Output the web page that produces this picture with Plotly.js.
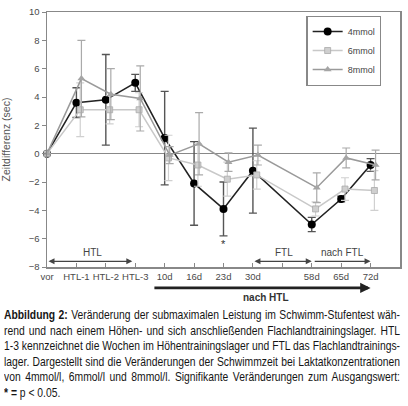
<!DOCTYPE html>
<html>
<head>
<meta charset="utf-8">
<script src="https://cdn.plot.ly/plotly-3.0.1.min.js"></script>
<style>
  body { margin: 0; background: #fff; }
  #plotDiv { position: absolute; left: 0; top: 0; width: 408px; height: 305px; }
  #caption {
    position: absolute; left: 4px; top: 307px;
    font-family: "Liberation Sans", Arial, sans-serif;
    font-size: 13.5px; line-height: 15.6px; color: #151515;
    transform-origin: 0 0;
  }
  #caption .ln { white-space: nowrap; }
  #caption b { font-weight: bold; }
</style>
</head>
<body>
<div id="plotDiv"></div>
<div id="caption">
<div class="ln"><b>Abbildung 2:</b> Veränderung der submaximalen Leistung im Schwimm-Stufentest wäh-</div>
<div class="ln">rend und nach einem Höhen- und sich anschließenden Flachlandtrainingslager. HTL</div>
<div class="ln">1-3 kennzeichnet die Wochen im Höhentrainingslager und FTL das Flachlandtrainings-</div>
<div class="ln">lager. Dargestellt sind die Veränderungen der Schwimmzeit bei Laktatkonzentrationen</div>
<div class="ln">von 4mmol/l, 6mmol/l und 8mmol/l. Signifikante Veränderungen zum Ausgangswert:</div>
<div class="ln last"><b>* =</b> p &lt; 0.05.</div>
</div>
<script>
// messzeitpunkte (30d -> 58d ist doppelt so lang)
var xPos = [0, 1, 2, 3, 4, 5, 6, 7, 9, 10, 11];
var xLabels = ['vor', 'HTL-1', 'HTL-2', 'HTL-3', '10d', '16d', '23d', '30d', '58d', '65d', '72d'];

var mmol4 = [0, 3.6, 3.8, 5.0, 1.1, -2.1, -3.9, -1.2, -5.0, -3.2, -0.8];
var mmol4Err = [0, 1.05, 3.2, 0.6, 3.3, 2.95, 1.9, 3.0, 0.5, 0.2, 0.45];

var mmol6 = [0, 3.1, 3.1, 3.1, -0.3, -0.8, -1.8, -1.5, -3.9, -2.5, -2.6];
var mmol6Err = [0, 1.9, 1.0, 1.2, 1.6, 1.5, 1.2, 1.0, 0.5, 0.8, 1.4];

var mmol8 = [0, 5.3, 4.2, 3.9, -0.1, 0.7, -0.6, -0.1, -2.4, -0.3, -0.8];
var mmol8Err = [0, 2.7, 1.8, 2.3, 0.6, 2.2, 0.65, 0.7, 1.05, 0.7, 1.05];

var sigX = [6];
var sigY = [-6.4];

function shift(arr, d){
  return arr.map(function(v){ return v === 0 ? v : v + d; });
}

// bildunterschrift schmal + blocksatz wie im original
function fitCaption(){
  var cap = document.getElementById('caption');
  var lines = cap.querySelectorAll('.ln');
  var maxW = 0;
  lines.forEach(function(l){
    l.style.display = 'inline-block';
    maxW = Math.max(maxW, l.getBoundingClientRect().width);
    l.style.display = 'block';
  });
  var target = 396;
  cap.style.width = maxW + 'px';
  lines.forEach(function(l){
    if(!l.classList.contains('last')){
      l.style.textAlign = 'justify';
      l.style.textAlignLast = 'justify';
      l.style.whiteSpace = 'normal';
    }
  });
  cap.style.transform = 'scaleX(' + (target / maxW) + ')';
}

function makePlot(){
  var font = 'Liberation Sans, Arial, sans-serif';

  var trace4 = {
    x: xPos, y: mmol4, name: '4mmol',
    mode: 'lines+markers', type: 'scatter', cliponaxis: false,
    line: {color: '#222', width: 1.6},
    marker: {symbol: 'circle', size: 8, color: '#000'},
    error_y: {type: 'data', array: mmol4Err, color: '#555', thickness: 1.4, width: 4}
  };
  var trace6 = {
    x: shift(xPos, 0.13), y: mmol6, name: '6mmol',
    mode: 'lines+markers', type: 'scatter', cliponaxis: false,
    line: {color: '#c8c8c8', width: 1.5},
    marker: {symbol: 'square', size: 6, color: '#cfcfcf', line: {color: '#aaa', width: 0.8}},
    error_y: {type: 'data', array: mmol6Err, color: '#d0d0d0', thickness: 1.2, width: 4}
  };
  var trace8 = {
    x: shift(xPos, 0.17), y: mmol8, name: '8mmol',
    mode: 'lines+markers', type: 'scatter', cliponaxis: false,
    line: {color: '#9a9a9a', width: 1.5},
    marker: {symbol: 'triangle-up', size: 7, color: '#a5a5a5'},
    error_y: {type: 'data', array: mmol8Err, color: '#aaa', thickness: 1.2, width: 4}
  };

  var data = [trace4, trace6, trace8];

  var tickVals = xPos.slice();
  tickVals.splice(8, 0, 8);
  var tickText = xLabels.slice();
  tickText.splice(8, 0, '');

  var arrowCol = '#444';
  var annotations = [
    // HTL, FTL, nach FTL (innerhalb der grafik)
    {x: 2.9, y: -7.6, ax: 0, ay: -7.6, xref: 'x', yref: 'y', axref: 'x', ayref: 'y',
     text: '', showarrow: true, arrowside: 'end+start', arrowhead: 2, arrowsize: 1, arrowwidth: 1.2, arrowcolor: arrowCol},
    {x: 1.55, y: -7.0, xref: 'x', yref: 'y', text: 'HTL', showarrow: false,
     font: {family: font, size: 10, color: '#444'}},
    {x: 9, y: -7.6, ax: 7, ay: -7.6, xref: 'x', yref: 'y', axref: 'x', ayref: 'y',
     text: '', showarrow: true, arrowside: 'end+start', arrowhead: 2, arrowsize: 1, arrowwidth: 1.2, arrowcolor: arrowCol},
    {x: 8.05, y: -7.0, xref: 'x', yref: 'y', text: 'FTL', showarrow: false,
     font: {family: font, size: 10, color: '#444'}},
    {x: 11, y: -7.6, ax: 9.05, ay: -7.6, xref: 'x', yref: 'y', axref: 'x', ayref: 'y',
     text: '', showarrow: true, arrowhead: 2, arrowsize: 1, arrowwidth: 1.2, arrowcolor: arrowCol},
    {x: 10.05, y: -7.0, xref: 'x', yref: 'y', text: 'nach FTL', showarrow: false,
     font: {family: font, size: 10, color: '#444'}},
    // nach HTL (unter der achse)
    {x: 11, y: -0.082, ax: 3.6, ay: 0, xref: 'x', yref: 'paper', axref: 'x', ayref: 'pixel',
     text: '', showarrow: true, arrowhead: 2, arrowsize: 0.8, arrowwidth: 2.6, arrowcolor: '#222'},
    {x: 7.45, y: -0.12, xref: 'x', yref: 'paper', yanchor: 'middle', text: '<b>nach HTL</b>', showarrow: false,
     font: {family: font, size: 10, color: '#333'}},
    // signifikanz
    {x: sigX[0], y: sigY[0], xref: 'x', yref: 'y', text: '*', showarrow: false,
     font: {family: font, size: 11, color: '#333'}}
  ];

  var layout = {
    width: 408, height: 305,
    margin: {l: 47, r: 8, t: 12, b: 38},
    paper_bgcolor: '#fff', plot_bgcolor: '#fff',
    font: {family: font, size: 9, color: '#555'},
    showlegend: true,
    legend: {
      x: 0.735, y: 0.985, xanchor: 'left', yanchor: 'top',
      bordercolor: '#888', borderwidth: 1.2, bgcolor: '#fff',
      font: {family: font, size: 9, color: '#444'},
      itemwidth: 30
    },
    xaxis: {
      range: [0, 12], tickvals: tickVals, ticktext: tickText,
      ticks: 'inside', ticklen: 4, tickcolor: '#888',
      showline: true, linecolor: '#888', linewidth: 1.5, mirror: true,
      showgrid: false, zeroline: false,
      tickfont: {family: font, size: 9.5, color: '#4a4a4a'}
    },
    yaxis: {
      range: [-8, 10], dtick: 2, tick0: 0,
      ticks: 'outside', ticklen: 4, tickcolor: '#888',
      showline: true, linecolor: '#888', linewidth: 1.5, mirror: true,
      showgrid: false, zeroline: true, zerolinecolor: '#888', zerolinewidth: 1.5,
      tickfont: {family: font, size: 9.5, color: '#4a4a4a'},
      title: {text: 'Zeitdifferenz (sec)', standoff: 27, font: {family: font, size: 10.5, color: '#555'}}
    },
    annotations: annotations
  };

  Plotly.newPlot('plotDiv', data, layout, {displayModeBar: false, staticPlot: true});
}

makePlot();
fitCaption();
</script>
</body>
</html>
